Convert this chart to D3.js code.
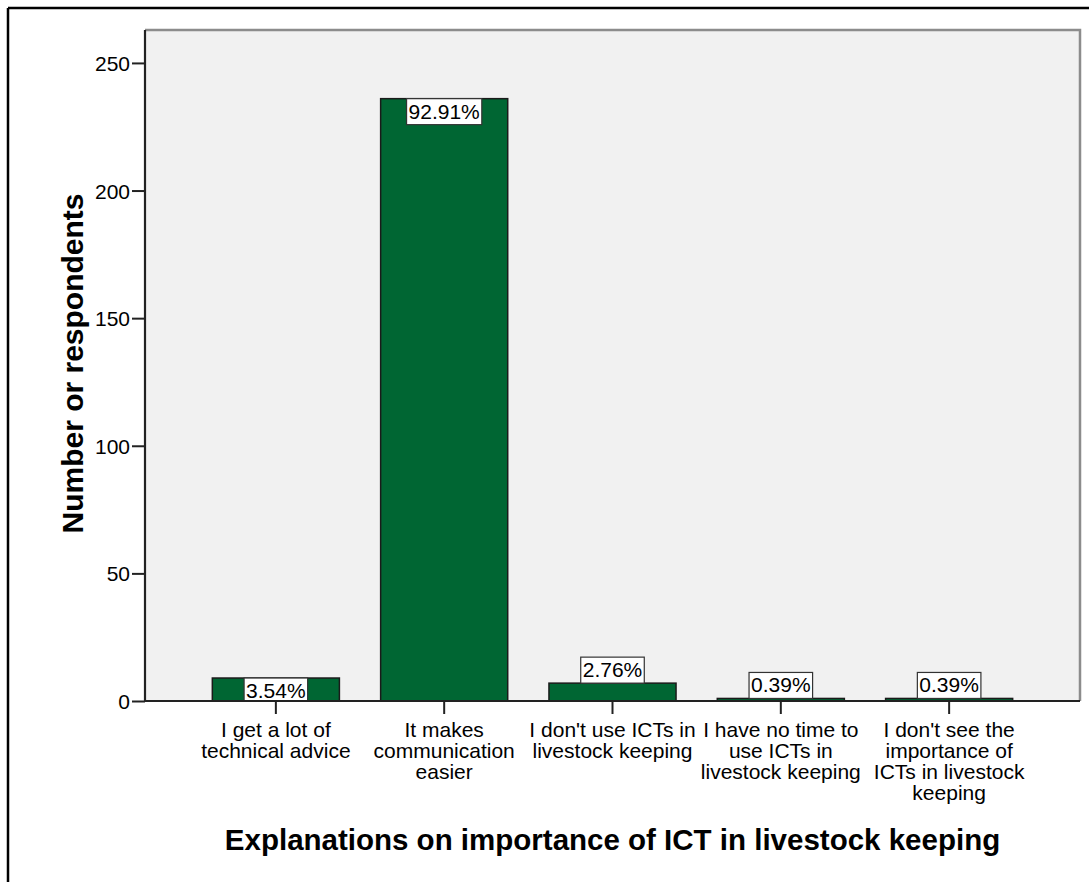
<!DOCTYPE html>
<html>
<head>
<meta charset="utf-8">
<script src="https://cdn.jsdelivr.net/npm/d3@7"></script>
<style>
  html, body { margin: 0; padding: 0; background: #fff; }
  svg { display: block; }
  text { font-family: "Liberation Sans", Arial, sans-serif; fill: #000; }
</style>
</head>
<body>
<svg id="chart" width="1089" height="882"></svg>
<script>
// ---- data ----
const categories = [
  "I get a lot of technical advice",
  "It makes communication easier",
  "I don't use ICTs in livestock keeping",
  "I have no time to use ICTs in livestock keeping",
  "I don't see the importance of ICTs in livestock keeping"
];
const categoryLines = [
  ["I get a lot of", "technical advice"],
  ["It makes", "communication", "easier"],
  ["I don't use ICTs in", "livestock keeping"],
  ["I have no time to", "use ICTs in", "livestock keeping"],
  ["I don't see the", "importance of", "ICTs in livestock", "keeping"]
];
const counts = [9, 236, 7, 1, 1];
const percentLabels = ["3.54%", "92.91%", "2.76%", "0.39%", "0.39%"];
const yTicks = [0, 50, 100, 150, 200, 250];
const yTitle = "Number or respondents";
const xTitle = "Explanations on importance of ICT in livestock keeping";

// ---- layout ----
const svg = d3.select("#chart");
const plot = { left: 145, right: 1080, top: 30, bottom: 701 };

// outer frame (clipped at right/bottom)
svg.append("line").attr("x1", 8).attr("x2", 1089).attr("y1", 8).attr("y2", 8)
  .attr("stroke", "#000").attr("stroke-width", 2.5);
svg.append("line").attr("x1", 8).attr("x2", 8).attr("y1", 8).attr("y2", 882)
  .attr("stroke", "#000").attr("stroke-width", 2.5);

const x = d3.scaleBand().domain(categories)
  .range([plot.left, plot.right]).paddingInner(0.245).paddingOuter(0.4);
const y = d3.scaleLinear().domain([0, 262.9]).range([plot.bottom, plot.top]);

// plot background
svg.append("rect")
  .attr("x", plot.left).attr("y", plot.top)
  .attr("width", plot.right - plot.left).attr("height", plot.bottom - plot.top)
  .attr("fill", "#f1f1f1");

// top & right border (gray)
svg.append("path")
  .attr("d", `M${plot.left},${plot.top}H${plot.right}V${plot.bottom}`)
  .attr("fill", "none").attr("stroke", "#8c8c8c").attr("stroke-width", 2.5);

// clip for labels
svg.append("clipPath").attr("id", "plotclip").append("rect")
  .attr("x", plot.left).attr("y", plot.top)
  .attr("width", plot.right - plot.left).attr("height", plot.bottom - plot.top);

// bars
const data = categories.map((c, i) => ({ c, v: counts[i], p: percentLabels[i], lines: categoryLines[i] }));
svg.append("g").selectAll("rect").data(data).join("rect")
  .attr("x", d => x(d.c)).attr("width", x.bandwidth())
  .attr("y", d => y(d.v)).attr("height", d => y(0) - y(d.v))
  .attr("fill", "#006633").attr("stroke", "#1a1a1a").attr("stroke-width", 1.5);

// percentage labels
const boxH = 26;
const lg = svg.append("g").attr("clip-path", "url(#plotclip)");
data.forEach(d => {
  const cx = x(d.c) + x.bandwidth() / 2;
  const barH = y(0) - y(d.v);
  const top = barH >= 20 ? y(d.v) : y(d.v) - boxH;
  const g = lg.append("g");
  const rect = g.append("rect").attr("fill", "#fff").attr("stroke", "#333").attr("stroke-width", 1.2);
  const t = g.append("text").attr("x", cx).attr("y", top + 20)
    .attr("text-anchor", "middle").attr("font-size", 21).text(d.p);
  const w = t.node().getComputedTextLength() + 4;
  rect.attr("x", cx - w / 2).attr("y", top).attr("width", w).attr("height", boxH);
});

// y axis
const yAxis = svg.append("g").attr("transform", `translate(${plot.left},0)`)
  .call(d3.axisLeft(y).tickValues(yTicks).tickSize(13).tickPadding(2).tickFormat(d3.format("d")));
yAxis.select(".domain").attr("stroke", "#222").attr("stroke-width", 2.2)
  .attr("d", `M0,${plot.top}V${plot.bottom}`);
yAxis.selectAll(".tick line").attr("stroke", "#222").attr("stroke-width", 2);
yAxis.selectAll(".tick text").attr("font-size", 21).attr("font-family", "Liberation Sans, Arial, sans-serif")
  .attr("fill", "#000").attr("dy", "0.36em");

// x axis
const xAxis = svg.append("g").attr("transform", `translate(0,${plot.bottom})`)
  .call(d3.axisBottom(x).tickSize(13).tickFormat(""));
xAxis.select(".domain").attr("stroke", "#222").attr("stroke-width", 2.2)
  .attr("d", `M${plot.left},0H${plot.right}`);
xAxis.selectAll(".tick line").attr("stroke", "#222").attr("stroke-width", 2);

// category labels
const cl = svg.append("g");
data.forEach(d => {
  const t = cl.append("text").attr("text-anchor", "middle").attr("font-size", 21)
    .attr("x", x(d.c) + x.bandwidth() / 2).attr("y", 737);
  d.lines.forEach((ln, i) => {
    t.append("tspan").attr("x", x(d.c) + x.bandwidth() / 2).attr("dy", i === 0 ? 0 : 21).text(ln);
  });
});

// axis titles
svg.append("text").attr("x", (plot.left + plot.right) / 2).attr("y", 850)
  .attr("text-anchor", "middle").attr("font-size", 29.5).attr("font-weight", "bold").text(xTitle);
svg.append("text")
  .attr("transform", `translate(83,${(plot.top + plot.bottom) / 2 - 2}) rotate(-90)`)
  .attr("text-anchor", "middle").attr("font-size", 30).attr("font-weight", "bold").text(yTitle);
</script>
</body>
</html>
